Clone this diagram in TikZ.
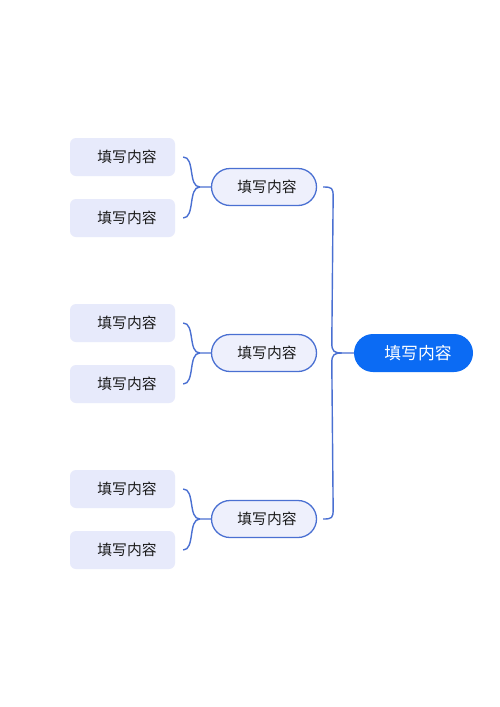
\documentclass[tikz,border=0pt]{standalone}
\usepackage{fontspec}
\setmainfont{Noto Sans CJK SC}
\usetikzlibrary{calc}
\definecolor{leaffill}{HTML}{E7EAFB}
\definecolor{midfill}{HTML}{EEF0FC}
\definecolor{linec}{HTML}{4A70D2}
\definecolor{rootfill}{HTML}{0B6BF4}
\definecolor{txt}{HTML}{1A1A1A}
\begin{document}
\begin{tikzpicture}[x=1pt,y=-1pt,
  leaf/.style={fill=leaffill,rounded corners=6pt,minimum width=105pt,minimum height=38pt,inner sep=0pt,text=txt,font=\fontsize{14.8}{16}\selectfont},
  mid/.style={draw=linec,line width=1.3pt,fill=midfill,rounded corners=18.5pt,minimum width=105pt,minimum height=37pt,inner sep=0pt,text=txt,font=\fontsize{14.8}{16}\selectfont},
  root/.style={fill=rootfill,rounded corners=19pt,minimum width=119pt,minimum height=38pt,inner sep=0pt,text=white,font=\fontsize{16.8}{18}\selectfont},
  conn/.style={draw=linec,line width=1.4pt}]
\useasboundingbox (0,0) rectangle (500,707);
\fill[white] (0,0) rectangle (500,707);
% leaves
\node[leaf] (a1) at (122.5,157) {\hspace*{9pt}\raisebox{-1pt}{填写内容}};
\node[leaf] (b1) at (122.5,218) {\hspace*{9pt}\raisebox{-1pt}{填写内容}};
\node[leaf] (a2) at (122.5,323) {\hspace*{9pt}\raisebox{-1pt}{填写内容}};
\node[leaf] (b2) at (122.5,384) {\hspace*{9pt}\raisebox{-1pt}{填写内容}};
\node[leaf] (a3) at (122.5,489) {\hspace*{9pt}\raisebox{-1pt}{填写内容}};
\node[leaf] (b3) at (122.5,550) {\hspace*{9pt}\raisebox{-1pt}{填写内容}};
% mids
\node[mid] (m1) at (264,187) {\hspace*{6pt}\raisebox{-1pt}{填写内容}};
\node[mid] (m2) at (264,353) {\hspace*{6pt}\raisebox{-1pt}{填写内容}};
\node[mid] (m3) at (264,519) {\hspace*{6pt}\raisebox{-1pt}{填写内容}};
% root
\node[root] (r) at (413.5,353) {\hspace*{9pt}\raisebox{-1pt}{填写内容}};
% left braces
\foreach \i in {1,2,3}{
  \draw[conn] ($(a\i.east)+(8,0)$) .. controls +(12,0) and +(-12,0) .. ($(m\i.west)+(-11,0)$) -- (m\i.west);
  \draw[conn] ($(b\i.east)+(8,0)$) .. controls +(12,0) and +(-12,0) .. ($(m\i.west)+(-11,0)$);
}
% right brace
\coordinate (t) at ($(m1.east)+(6,0)$);
\coordinate (bt) at ($(m3.east)+(6,0)$);
\coordinate (j) at ($(r.west)+(-12,0)$);
\draw[conn] (t) .. controls +(9,0) and +(0,-9) .. ($(t)+(10,10)$) -- ($(j)+(-10,-10)$) .. controls +(0,8) and +(-8,0) .. (j) -- (r.west);
\draw[conn] (bt) .. controls +(9,0) and +(0,9) .. ($(bt)+(10,-10)$) -- ($(j)+(-10,10)$) .. controls +(0,-8) and +(-8,0) .. (j);
\end{tikzpicture}
\end{document}
